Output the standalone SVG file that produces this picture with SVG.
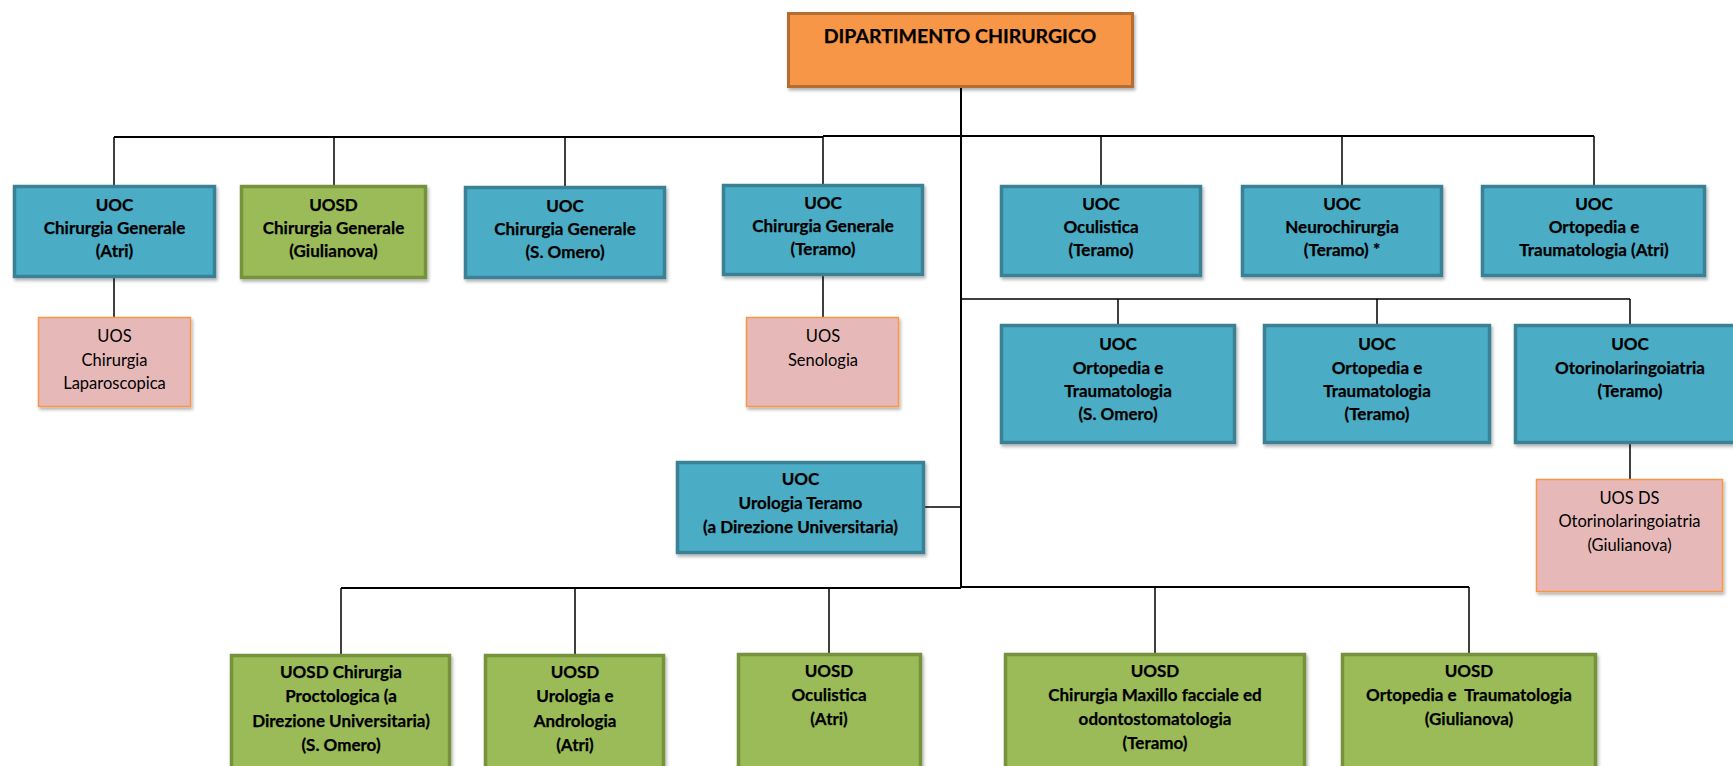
<svg xmlns="http://www.w3.org/2000/svg" width="1733" height="766" viewBox="0 0 1733 766">
<defs>
<filter id="sh" x="-10%" y="-10%" width="130%" height="130%">
<feDropShadow dx="1.5" dy="2.5" stdDeviation="1.5" flood-color="#000" flood-opacity="0.3"/>
</filter>
<style>
.blue{fill:#4BACC6;stroke:#3A8196;stroke-width:3.5}
.green{fill:#9BBB59;stroke:#76923C;stroke-width:3.5}
.orange{fill:#F79646;stroke:#B66D31;stroke-width:3}
.pink{fill:#E6B9B8;stroke:#F79646;stroke-width:1.5}
text{font-family:Lato,"Liberation Sans",sans-serif;font-size:17px;fill:#000;text-anchor:middle}
.b{font-weight:bold;stroke:#000;stroke-width:0.25}
.r{font-weight:normal;font-size:16.5px}
.t{font-size:19.5px;font-weight:bold;stroke:#000;stroke-width:0.25}
.c{fill:none;stroke:#000;stroke-width:1.5}
.c2{fill:none;stroke:#000;stroke-width:2}
</style>
</defs>
<rect width="1733" height="766" fill="#fff"/>
<g id="connectors">
<path class="c2" d="M961 88V587"/>
<path class="c2" d="M114 137H823M823 136H1594"/>
<path class="c" d="M114 137V185M334 137V185M565 137V186M823 136V184M1101 136V185M1342 136V185M1594 136V185"/>
<path class="c" d="M114 278V317M823 276V317"/>
<path class="c" d="M961 299H1630M1118 299V324M1377 299V324M1630 299V324M1630 444V479"/>
<path class="c" d="M925 507H961"/>
<path class="c2" d="M341 588H961M961 587H1469"/>
<path class="c" d="M341 588V655M575 588V655M829 588V653M1155 587V653M1469 587V653"/>
</g>
<g id="n-dip"><rect class="orange" x="788.5" y="13.5" width="344" height="73" filter="url(#sh)"/><text class="t" x="960" y="43">DIPARTIMENTO CHIRURGICO</text></g>
<g id="n-cg-atri"><rect class="blue" x="14.5" y="186.5" width="200" height="90" filter="url(#sh)"/><text class="b" x="114.5" y="211">UOC</text><text class="b" x="114.5" y="234">Chirurgia Generale</text><text class="b" x="114.5" y="257">(Atri)</text></g>
<g id="n-cg-giul"><rect class="green" x="241.5" y="186.5" width="184" height="91" filter="url(#sh)"/><text class="b" x="333.5" y="211">UOSD</text><text class="b" x="333.5" y="234">Chirurgia Generale</text><text class="b" x="333.5" y="257">(Giulianova)</text></g>
<g id="n-cg-somero"><rect class="blue" x="465.5" y="187.5" width="199" height="90" filter="url(#sh)"/><text class="b" x="565" y="212">UOC</text><text class="b" x="565" y="235">Chirurgia Generale</text><text class="b" x="565" y="258">(S. Omero)</text></g>
<g id="n-cg-teramo"><rect class="blue" x="723.5" y="185.5" width="199" height="89" filter="url(#sh)"/><text class="b" x="823" y="209">UOC</text><text class="b" x="823" y="232">Chirurgia Generale</text><text class="b" x="823" y="255">(Teramo)</text></g>
<g id="n-ocul-teramo"><rect class="blue" x="1001.5" y="186.5" width="199" height="89" filter="url(#sh)"/><text class="b" x="1101" y="210">UOC</text><text class="b" x="1101" y="233">Oculistica</text><text class="b" x="1101" y="256">(Teramo)</text></g>
<g id="n-neuro"><rect class="blue" x="1242.5" y="186.5" width="199" height="89" filter="url(#sh)"/><text class="b" x="1342" y="210">UOC</text><text class="b" x="1342" y="233">Neurochirurgia</text><text class="b" x="1342" y="256">(Teramo) *</text></g>
<g id="n-orto-atri"><rect class="blue" x="1482.5" y="186.5" width="222" height="89" filter="url(#sh)"/><text class="b" x="1594" y="210">UOC</text><text class="b" x="1594" y="233">Ortopedia e</text><text class="b" x="1594" y="256">Traumatologia (Atri)</text></g>
<g id="n-uos-lap"><rect class="pink" x="38.5" y="317.5" width="152" height="89" filter="url(#sh)"/><text class="r" x="114.5" y="342">UOS</text><text class="r" x="114.5" y="366">Chirurgia</text><text class="r" x="114.5" y="389">Laparoscopica</text></g>
<g id="n-uos-seno"><rect class="pink" x="746.5" y="317.5" width="152" height="89" filter="url(#sh)"/><text class="r" x="823" y="342">UOS</text><text class="r" x="823" y="366">Senologia</text></g>
<g id="n-orto-somero"><rect class="blue" x="1001.5" y="325.5" width="233" height="117" filter="url(#sh)"/><text class="b" x="1118" y="350">UOC</text><text class="b" x="1118" y="374">Ortopedia e</text><text class="b" x="1118" y="397">Traumatologia</text><text class="b" x="1118" y="420">(S. Omero)</text></g>
<g id="n-orto-teramo"><rect class="blue" x="1264.5" y="325.5" width="225" height="117" filter="url(#sh)"/><text class="b" x="1377" y="350">UOC</text><text class="b" x="1377" y="374">Ortopedia e</text><text class="b" x="1377" y="397">Traumatologia</text><text class="b" x="1377" y="420">(Teramo)</text></g>
<g id="n-otorino"><rect class="blue" x="1515.5" y="325.5" width="240" height="117" filter="url(#sh)"/><text class="b" x="1630" y="350">UOC</text><text class="b" x="1630" y="374">Otorinolaringoiatria</text><text class="b" x="1630" y="397">(Teramo)</text></g>
<g id="n-uos-otorino"><rect class="pink" x="1536.5" y="479.5" width="186" height="112" filter="url(#sh)"/><text class="r" x="1629.5" y="504">UOS DS</text><text class="r" x="1629.5" y="527">Otorinolaringoiatria</text><text class="r" x="1629.5" y="551">(Giulianova)</text></g>
<g id="n-urologia"><rect class="blue" x="677.5" y="462.5" width="246" height="90" filter="url(#sh)"/><text class="b" x="800.5" y="485">UOC</text><text class="b" x="800.5" y="509">Urologia Teramo</text><text class="b" x="800.5" y="533">(a Direzione Universitaria)</text></g>
<g id="n-procto"><rect class="green" x="231.5" y="655.5" width="218" height="130" filter="url(#sh)"/><text class="b" x="341" y="678">UOSD Chirurgia</text><text class="b" x="341" y="702">Proctologica (a</text><text class="b" x="341" y="727">Direzione Universitaria)</text><text class="b" x="341" y="751">(S. Omero)</text></g>
<g id="n-uro-andro"><rect class="green" x="485.5" y="655.5" width="178" height="130" filter="url(#sh)"/><text class="b" x="575" y="678">UOSD</text><text class="b" x="575" y="702">Urologia e</text><text class="b" x="575" y="727">Andrologia</text><text class="b" x="575" y="751">(Atri)</text></g>
<g id="n-ocul-atri"><rect class="green" x="738.5" y="654.5" width="182" height="130" filter="url(#sh)"/><text class="b" x="829" y="677">UOSD</text><text class="b" x="829" y="701">Oculistica</text><text class="b" x="829" y="725">(Atri)</text></g>
<g id="n-maxillo"><rect class="green" x="1005.5" y="654.5" width="299" height="130" filter="url(#sh)"/><text class="b" x="1155" y="677">UOSD</text><text class="b" x="1155" y="701">Chirurgia Maxillo facciale ed</text><text class="b" x="1155" y="725">odontostomatologia</text><text class="b" x="1155" y="749">(Teramo)</text></g>
<g id="n-orto-giul"><rect class="green" x="1342.5" y="654.5" width="253" height="130" filter="url(#sh)"/><text class="b" x="1469" y="677">UOSD</text><text class="b" x="1469" y="701" xml:space="preserve">Ortopedia e  Traumatologia</text><text class="b" x="1469" y="725">(Giulianova)</text></g>
</svg>
